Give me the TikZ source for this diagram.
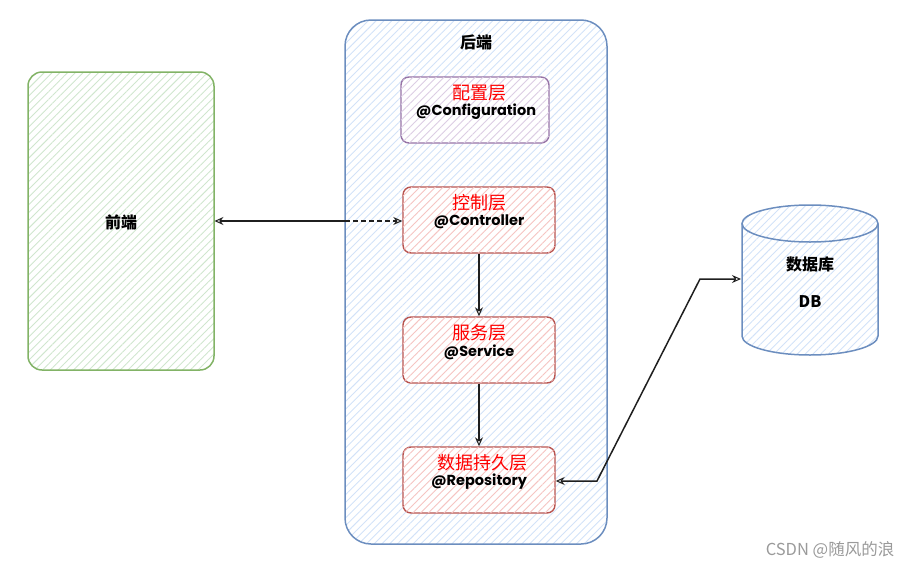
\documentclass[tikz,border=0pt]{standalone}
\usepackage{fontspec}
\setmainfont{Noto Sans CJK SC}
\newfontfamily\cjk{Noto Sans CJK SC}
\newfontfamily\codefont{Poppins}
\usetikzlibrary{arrows.meta,patterns.meta}
\definecolor{gstroke}{HTML}{82B366}
\definecolor{gfill}{HTML}{D0E6CE}
\definecolor{bstroke}{HTML}{6C8EBF}
\definecolor{bfill}{HTML}{D2E2F8}
\definecolor{pstroke}{HTML}{9673A6}
\definecolor{pfill}{HTML}{DCCDE4}
\definecolor{rstroke}{HTML}{B85450}
\definecolor{rfill}{HTML}{F6C4C2}
\definecolor{wm}{HTML}{9A9A9A}
\tikzset{
  hatch/.style={pattern={Lines[angle=45,distance=5.5pt,line width=0.9pt]},pattern color=#1},
  frontbox/.style={draw=gstroke,line width=1.5pt,rounded corners=14pt,minimum width=186pt,minimum height=298pt,hatch=gfill},
  backbox/.style={draw=bstroke,line width=1.5pt,rounded corners=26pt,minimum width=262pt,minimum height=524pt,hatch=bfill},
  layerbox/.style={draw=#1,line width=1.4pt,rounded corners=8pt,minimum width=152pt,minimum height=66pt},
  redtxt/.style={text=red,font=\cjk\fontsize{18}{20}\selectfont,inner sep=0pt},
  codetxt/.style={text=black,font=\codefont\bfseries\fontsize{14.5}{16}\selectfont,inner sep=0pt},
  titletxt/.style={text=black,font=\cjk\bfseries\fontsize{16}{18}\selectfont,inner sep=0pt},
  arr/.style={line width=1.5pt,draw=black!88},
  myhead/.tip={Stealth[open,length=9pt,width=8pt,line width=1pt]}
}
\begin{document}
\begin{tikzpicture}[x=1pt,y=-1pt]
\useasboundingbox (0,0) rectangle (914,568);
% front end
\node[frontbox] (front) at (121,221) {};
\node[titletxt] (frontT) at (121,222) {前端};
% back end
\node[backbox] (back) at (476,282) {};
\node[titletxt] (backT) at (476,42) {后端};
% layers
\node[layerbox=pstroke,minimum width=148pt,fill=white,postaction={hatch=pfill}] (cfg) at (475,110) {};
\node[redtxt] (cfgR) at (479,93) {配置层};
\node[codetxt] (cfgC) at (476,112) {@Configuration};
\node[layerbox=rstroke,fill=white,postaction={hatch=rfill}] (ctrl) at (479,220) {};
\node[redtxt] (ctrlR) at (479,203) {控制层};
\node[codetxt] (ctrlC) at (479,222) {@Controller};
\node[layerbox=rstroke,fill=white,postaction={hatch=rfill}] (svc) at (479,350) {};
\node[redtxt] (svcR) at (479,333) {服务层};
\node[codetxt] (svcC) at (479,352) {@Service};
\node[layerbox=rstroke,fill=white,postaction={hatch=rfill}] (repo) at (479,480) {};
\node[redtxt] (repoR) at (482,463) {数据持久层};
\node[codetxt] (repoC) at (479,482) {@Repository};
% database cylinder
\path[hatch=bfill] (742,223.5) -- (742,336) arc[start angle=180,end angle=0,x radius=68,y radius=19] -- (878,223.5) arc[start angle=0,end angle=-180,x radius=68,y radius=18.5] -- cycle;
\draw[bstroke,line width=1.5pt] (742,223.5) -- (742,336) arc[start angle=180,end angle=0,x radius=68,y radius=19] -- (878,223.5);
\draw[bstroke,line width=1.5pt] (810,223.5) ellipse[x radius=68,y radius=18.5];
\node[titletxt] (dbT) at (810,264) {数据库};
\node[titletxt] (dbD) at (810,302) {DB};
\coordinate (dbW) at (741,279);
% connectors
\coordinate (mid) at (345,221);
\draw[arr,{myhead}-] (front.east) -- (mid);
\draw[arr,dashed,dash pattern=on 5pt off 3pt,-{myhead}] (mid) -- (ctrl.west |- mid);
\draw[arr,-{myhead}] (ctrl.south) -- (svc.north);
\draw[arr,-{myhead}] (svc.south) -- (repo.north);
\coordinate (k1) at (597,481);
\coordinate (k2) at (700,279);
\draw[arr,{myhead}-{myhead}] (repo.east |- k1) -- (k1) -- (k2) -- (dbW);
% watermark
\node[text=wm,font=\cjk\fontsize{16.5}{18}\selectfont,inner sep=0pt] (wmark) at (830,550) {CSDN @随风的浪};
\end{tikzpicture}
\end{document}
